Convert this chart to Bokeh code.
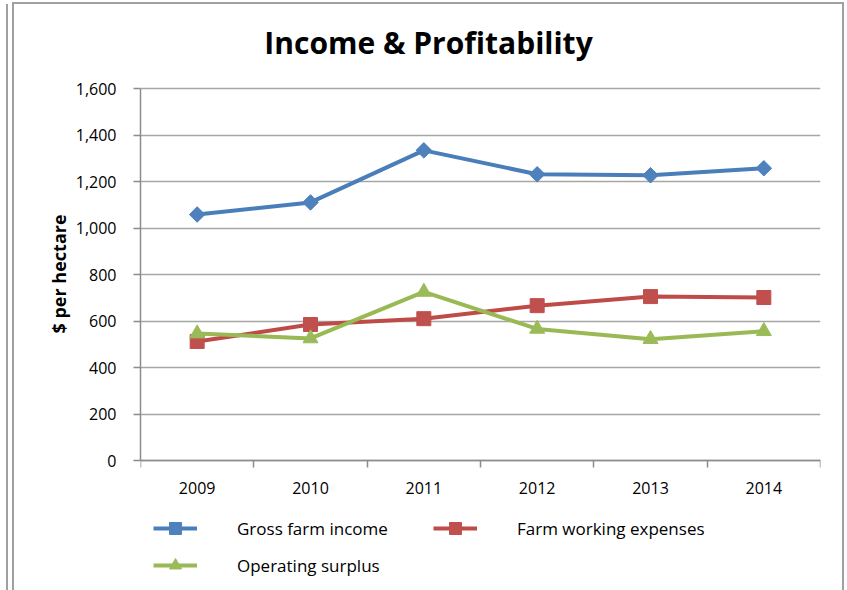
import math
from bokeh.plotting import figure
from bokeh.models import (Range1d, FixedTicker, NumeralTickFormatter, Legend,
                          LegendItem, Label, Title)
from bokeh.embed import file_html
from bokeh.resources import INLINE

# ---- data ----
years = ["2009", "2010", "2011", "2012", "2013", "2014"]
gross_income = [1058, 1110, 1334, 1231, 1227, 1257]
working_expenses = [512, 585, 610, 666, 705, 701]
operating_surplus = [546, 525, 725, 566, 522, 556]
y_ticks = [0, 200, 400, 600, 800, 1000, 1200, 1400, 1600]

FONT = "Open Sans"
GRID = "#a6a6a6"
AXIS = "#8c8c8c"
BORDER = "#a0a0a0"

# ---- layout geometry (pixels) ----
W, H = 828, 586
LEFT, RIGHT = 126, 22      # frame margins
Y_TOP_PX = 84              # canvas row of the 1,600 gridline
Y_ZERO_PX = 456            # canvas row of the x axis
per_px = y_ticks[-1] / (Y_ZERO_PX - Y_TOP_PX)
y_max = y_ticks[-1] + Y_TOP_PX * per_px
y_min = -(H - Y_ZERO_PX) * per_px

p = figure(width=W, height=H, output_backend="svg", toolbar_location=None,
           title=None,
           x_range=Range1d(0, len(years)), y_range=Range1d(y_min, y_max),
           min_border_left=LEFT, min_border_right=RIGHT, min_border_top=0,
           min_border_bottom=0)
p.styles = {
    "margin-left": "14px",
    "margin-top": "4px",
    "outline": f"2px solid {BORDER}",
    "box-shadow": f"-2px 0 0 0 white, -4px 0 0 0 white, -6px 0 0 0 white, -8px 0 0 0 {BORDER}",
}
p.outline_line_color = None
p.background_fill_color = "white"
p.border_fill_color = "white"

# title
p.add_layout(Label(x=288, y=548, x_units="screen", y_units="screen",
                   text="Income & Profitability", text_align="center",
                   text_baseline="middle", text_font=FONT, text_font_size="30px",
                   text_font_style="bold", text_color="black"))

xs = [i + 0.5 for i in range(len(years))]

# grid
p.xgrid.visible = False
p.ygrid.ticker = FixedTicker(ticks=y_ticks)
p.ygrid.grid_line_color = GRID
p.ygrid.grid_line_width = 1.3

# x axis (sits at y = 0)
xa = p.xaxis[0]
xa.fixed_location = 0
xa.ticker = FixedTicker(ticks=xs, minor_ticks=list(range(len(years) + 1)))
xa.major_label_overrides = {x: y for x, y in zip(xs, years)}
xa.major_tick_out = 0
xa.major_tick_in = 0
xa.minor_tick_out = 7
xa.minor_tick_in = 0
xa.minor_tick_line_color = AXIS
xa.minor_tick_line_width = 1.5
xa.axis_line_color = AXIS
xa.axis_line_width = 1.5
xa.major_label_standoff = 14
xa.major_label_text_font = FONT
xa.major_label_text_font_size = "16px"
xa.major_label_text_color = "black"

# y axis
ya = p.yaxis[0]
ya.bounds = (y_ticks[0], y_ticks[-1])
ya.ticker = FixedTicker(ticks=y_ticks)
ya.formatter = NumeralTickFormatter(format="0,0")
ya.major_tick_out = 7
ya.major_tick_in = 0
ya.minor_tick_out = 0
ya.minor_tick_in = 0
ya.major_tick_line_color = AXIS
ya.major_tick_line_width = 1.5
ya.axis_line_color = AXIS
ya.axis_line_width = 1.5
ya.major_label_standoff = 17
ya.major_label_text_font = FONT
ya.major_label_text_font_size = "16px"
ya.major_label_text_color = "black"

# y axis title, placed along the bounded axis
p.add_layout(Title(text="$ per hectare", align="left", offset=257, standoff=3,
                   text_font=FONT, text_font_size="18px", text_font_style="bold",
                   text_color="black"), "left")

series = [
    ("Gross farm income", gross_income, "#4a7ebb", "#4f81bd", "square", math.pi / 4, 11),
    ("Farm working expenses", working_expenses, "#be4b48", "#c0504d", "square", 0, 14),
    ("Operating surplus", operating_surplus, "#98b954", "#9bbb59", "triangle", 0, 15),
]
items = []
for name, vals, lc, mc, marker, ang, sz in series:
    rl = p.line(xs, vals, line_color=lc, line_width=4, line_join="round")
    rs = p.scatter(xs, vals, marker=marker, angle=ang, size=sz,
                   fill_color=mc, line_color=mc)
    items.append(LegendItem(label=name, renderers=[rl, rs]))

legend = Legend(items=items, orientation="horizontal", ncols=2,
                location=(13, 10), glyph_width=44, glyph_height=30,
                label_standoff=40, label_width=189, spacing=7, padding=0, margin=0,
                border_line_color=None, background_fill_alpha=0,
                label_text_font=FONT, label_text_font_size="17px",
                label_text_color="black")
p.add_layout(legend)

open("out.html", "w").write(file_html(p, INLINE))
